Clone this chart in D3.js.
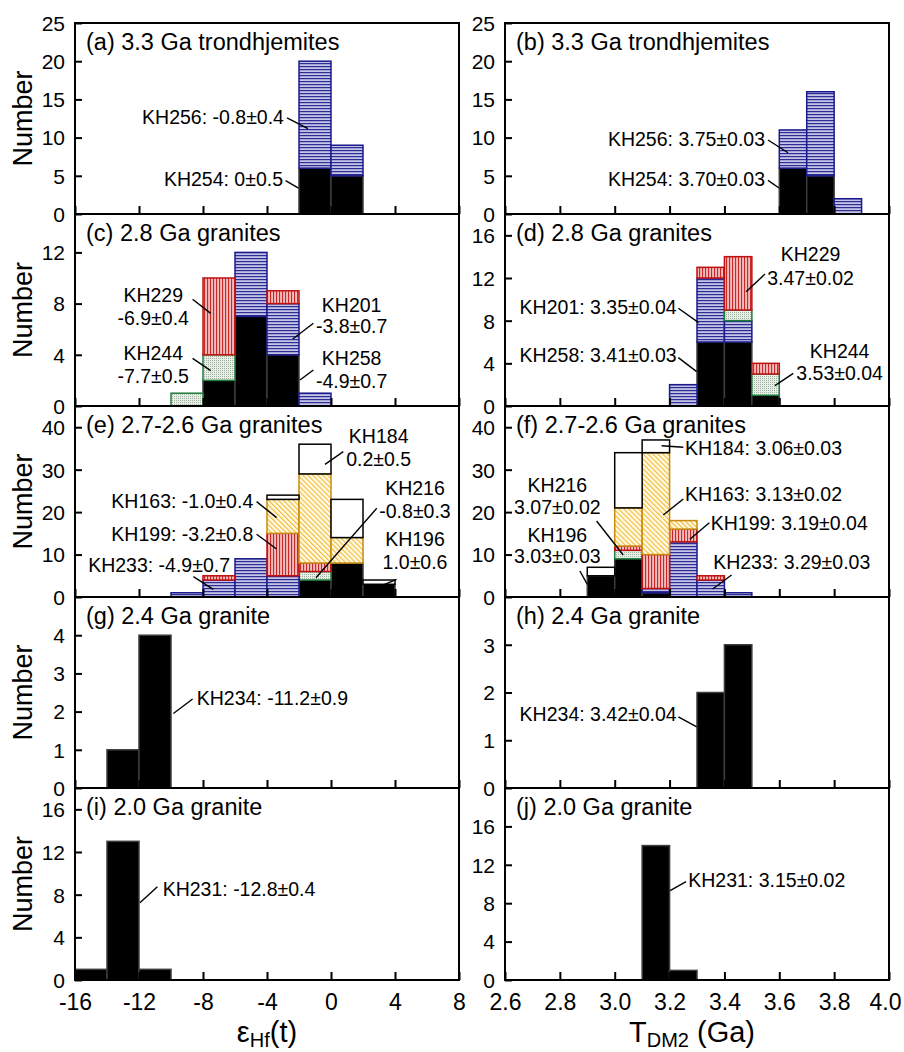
<!DOCTYPE html>
<html><head><meta charset="utf-8">
<script src="https://cdn.jsdelivr.net/npm/d3@7"></script>
<style>
body{margin:0;background:#fff}
text{font-family:"Liberation Sans",Arial,Helvetica,sans-serif;fill:#000}
</style>
</head><body>
<svg id="c" width="904" height="1052"></svg>
<script>
// ---------- DATA ----------
const epsBinWidth = 2;
const tdmBinWidth = 0.1;
const epsTicks = [-16, -12, -8, -4, 0, 4, 8];
const tdmTicks = [2.6, 2.8, 3.0, 3.2, 3.4, 3.6, 3.8, 4.0];

// (a) eHf(t), 3.3 Ga trondhjemites
const aBins = [-2, 0];
const aKH254 = [6, 5];
const aKH256 = [14, 4];
// (b) TDM2
const bBins = [3.6, 3.7, 3.8];
const bKH254 = [6, 5, 0];
const bKH256 = [5, 11, 2];
// (c) eHf(t), 2.8 Ga granites
const cBins = [-10, -8, -6, -4, -2];
const cKH258 = [0, 2, 7, 4, 0];
const cKH201 = [0, 0, 5, 4, 1];
const cKH244 = [1, 2, 0, 0, 0];
const cKH229 = [0, 6, 0, 1, 0];
// (d) TDM2
const dBins = [3.2, 3.3, 3.4, 3.5];
const dKH258 = [0, 6, 6, 1];
const dKH201 = [2, 6, 2, 0];
const dKH244 = [0, 0, 1, 2];
const dKH229 = [0, 1, 5, 1];
// (e) eHf(t), 2.7-2.6 Ga granites
const eBins = [-10, -8, -6, -4, -2, 0, 2];
const eKH196 = [0, 0, 0, 0, 4, 8, 3];
const eKH216 = [0, 0, 0, 0, 2, 0, 0];
const eKH233 = [1, 4, 9, 5, 0, 0, 0];
const eKH199 = [0, 1, 0, 10, 2, 0, 0];
const eKH163 = [0, 0, 0, 8, 21, 6, 0];
const eKH184 = [0, 0, 0, 1, 7, 9, 1];
// (f) TDM2
const fBins = [2.9, 3.0, 3.1, 3.2, 3.3, 3.4];
const fKH196 = [5, 9, 1, 0, 0, 0];
const fKH216 = [0, 2, 0, 0, 0, 0];
const fKH233 = [0, 0, 1, 13, 4, 1];
const fKH199 = [0, 1, 8, 3, 1, 0];
const fKH163 = [0, 9, 24, 2, 0, 0];
const fKH184 = [2, 13, 3, 0, 0, 0];
// (g) eHf(t), 2.4 Ga granite
const gBins = [-14, -12];
const gKH234 = [1, 4];
// (h) TDM2
const hBins = [3.3, 3.4];
const hKH234 = [2, 3];
// (i) eHf(t), 2.0 Ga granite
const iBins = [-16, -14, -12];
const iKH231 = [1, 13, 1];
// (j) TDM2
const jBins = [3.1, 3.2];
const jKH231 = [14, 1];

// sample -> fill style
const sampleStyle = {
  KH254:'black', KH256:'blue',
  KH258:'black', KH201:'blue', KH244:'green', KH229:'red',
  KH196:'black', KH216:'green', KH233:'blue', KH199:'red', KH163:'yellow', KH184:'white',
  KH234:'black', KH231:'black'
};

// ---------- PANELS ----------
const panels = [
  {col:0,row:0,title:'(a) 3.3 Ga trondhjemites',ymax:25,yticks:[0,5,10,15,20,25],bins:aBins,
   series:[['KH254',aKH254],['KH256',aKH256]],
   notes:[
    {text:['KH256: -0.8±0.4'],x:-2.94,y:[11.78],anchor:'end',lead:[-2.75,12.57,-1.44,11.19]},
    {text:['KH254: 0±0.5'],x:-3.0,y:[3.6],anchor:'end',lead:[-2.84,4.38,-2.03,3.40]}]},
  {col:1,row:0,title:'(b) 3.3 Ga trondhjemites',ymax:25,yticks:[0,5,10,15,20,25],bins:bBins,
   series:[['KH254',bKH254],['KH256',bKH256]],
   notes:[
    {text:['KH256: 3.75±0.03'],x:3.548,y:[8.94],anchor:'end',lead:[3.559,9.69,3.632,8.02]},
    {text:['KH254: 3.70±0.03'],x:3.548,y:[3.66],anchor:'end',lead:[3.559,4.41,3.599,3.40]}]},
  {col:0,row:1,title:'(c) 2.8 Ga granites',ymax:15,yticks:[0,4,8,12],bins:cBins,
   series:[['KH258',cKH258],['KH201',cKH201],['KH244',cKH244],['KH229',cKH229]],
   notes:[
    {text:['KH229','-6.9±0.4'],x:-11.11,y:[8.10,6.33],anchor:'middle',lead:[-8.65,8.34,-7.52,7.24]},
    {text:['KH244','-7.7±0.5'],x:-11.11,y:[3.59,1.77],anchor:'middle',lead:[-8.65,3.72,-7.52,2.76]},
    {text:['KH201','-3.8±0.7'],x:1.29,y:[7.37,5.68],anchor:'middle',lead:[-1.10,6.46,-2.39,5.23]},
    {text:['KH258','-4.9±0.7'],x:1.29,y:[3.20,1.38],anchor:'middle',lead:[-1.10,2.81,-1.94,2.03]}]},
  {col:1,row:1,title:'(d) 2.8 Ga granites',ymax:18,yticks:[0,4,8,12,16],bins:dBins,
   series:[['KH258',dKH258],['KH201',dKH201],['KH244',dKH244],['KH229',dKH229]],
   notes:[
    {text:['KH229','3.47±0.02'],x:3.714,y:[13.62,11.34],anchor:'middle',lead:[3.548,12.37,3.479,10.72]},
    {text:['KH201: 3.35±0.04'],x:3.226,y:[8.60],anchor:'end',lead:[3.232,9.16,3.306,7.81]},
    {text:['KH258: 3.41±0.03'],x:3.226,y:[4.15],anchor:'end',lead:[3.232,4.53,3.299,3.22]},
    {text:['KH244','3.53±0.04'],x:3.820,y:[4.47,2.44],anchor:'middle',lead:[3.651,3.06,3.584,1.91]}]},
  {col:0,row:2,title:'(e) 2.7-2.6 Ga granites',ymax:45,yticks:[0,10,20,30,40],bins:eBins,
   series:[['KH196',eKH196],['KH216',eKH216],['KH233',eKH233],['KH199',eKH199],['KH163',eKH163],['KH184',eKH184]],
   notes:[
    {text:['KH184','0.2±0.5'],x:2.98,y:[36.2,30.9],anchor:'middle',lead:[0.77,34.24,-0.375,31.26]},
    {text:['KH163: -1.0±0.4'],x:-4.86,y:[20.9],anchor:'end',lead:[-4.65,22.46,-3.40,18.69]},
    {text:['KH199: -3.2±0.8'],x:-4.86,y:[13.2],anchor:'end',lead:[-4.65,14.77,-3.40,11.31]},
    {text:['KH233: -4.9±0.7'],x:-6.31,y:[5.97],anchor:'end',lead:[-8.6,4.79,-7.36,1.81]},
    {text:['KH216','-0.8±0.3'],x:5.25,y:[24.0,18.69],anchor:'middle',lead:[2.86,20.9,-0.94,4.55]},
    {text:['KH196','1.0±0.6'],x:5.25,y:[11.9,6.6],anchor:'middle',lead:[4.1,4.16,3.17,2.67]}]},
  {col:1,row:2,title:'(f) 2.7-2.6 Ga granites',ymax:45,yticks:[0,10,20,30,40],bins:fBins,
   series:[['KH196',fKH196],['KH216',fKH216],['KH233',fKH233],['KH199',fKH199],['KH163',fKH163],['KH184',fKH184]],
   notes:[
    {text:['KH184: 3.06±0.03'],x:3.256,y:[33.46],anchor:'start',lead:[3.250,35.27,3.171,35.65]},
    {text:['KH216','3.07±0.02'],x:2.791,y:[24.8,19.48],anchor:'middle',lead:[2.934,17.9,3.031,9.9]},
    {text:['KH196','3.03±0.03'],x:2.791,y:[13.03,7.94],anchor:'middle',lead:[2.873,6.13,2.900,2.99]},
    {text:['KH163: 3.13±0.02'],x:3.256,y:[22.62],anchor:'start',lead:[3.250,23.09,3.177,19.32]},
    {text:['KH199: 3.19±0.04'],x:3.350,y:[15.79],anchor:'start',lead:[3.345,17.5,3.274,13.6]},
    {text:['KH233: 3.29±0.03'],x:3.359,y:[6.6],anchor:'start',lead:[3.426,5.18,3.357,1.88]}]},
  {col:0,row:3,title:'(g) 2.4 Ga granite',ymax:5,yticks:[0,1,2,3,4],bins:gBins,
   series:[['KH234',gKH234]],
   notes:[{text:['KH234: -11.2±0.9'],x:-8.39,y:[2.17],anchor:'start',lead:[-8.65,2.33,-9.85,1.95]}]},
  {col:1,row:3,title:'(h) 2.4 Ga granite',ymax:4,yticks:[0,1,2,3],bins:hBins,
   series:[['KH234',hKH234]],
   notes:[{text:['KH234: 3.42±0.04'],x:3.226,y:[1.40],anchor:'end',lead:[3.232,1.49,3.299,1.28]}]},
  {col:0,row:4,title:'(i) 2.0 Ga granite',ymax:18,yticks:[0,4,8,12,16],bins:iBins,
   series:[['KH231',iKH231]],
   notes:[{text:['KH231: -12.8±0.4'],x:-10.52,y:[7.87],anchor:'start',lead:[-10.85,8.75,-11.94,7.25]}]},
  {col:1,row:4,title:'(j) 2.0 Ga granite',ymax:20,yticks:[0,4,8,12,16],bins:jBins,
   series:[['KH231',jKH231]],
   notes:[{text:['KH231: 3.15±0.02'],x:3.268,y:[9.66],anchor:'start',lead:[3.260,10.24,3.202,9.3]}]}
];

// ---------- LAYOUT / STYLE ----------
const colX = [[75, 459], [505, 889]];
const rowY = [23, 214, 406, 597, 788, 980];
const styles = {
  black:{fill:'#000', stroke:'#3c3c3c'},
  blue:{fill:'url(#pBlue)', stroke:'#1a1a8c'},
  red:{fill:'url(#pRed)', stroke:'#bf1010'},
  green:{fill:'url(#pGreen)', stroke:'#1e7d3c'},
  yellow:{fill:'url(#pYellow)', stroke:'#c88a10'},
  white:{fill:'#fff', stroke:'#000'}
};

const svg = d3.select('#c');
const defs = svg.append('defs');
function pattern(id, w, h, bg, fg, rect, transform){
  const p = defs.append('pattern').attr('id', id).attr('patternUnits','userSpaceOnUse')
    .attr('width', w).attr('height', h);
  if (transform) p.attr('patternTransform', transform);
  p.append('rect').attr('width', w).attr('height', h).attr('fill', bg);
  rect.forEach(r => p.append('rect').attr('x', r[0]).attr('y', r[1]).attr('width', r[2]).attr('height', r[3]).attr('fill', fg));
}
pattern('pBlue', 6, 3, '#c4c4e6', '#2c2c94', [[0,0,6,1.2]]);
pattern('pRed', 3, 6, '#f2bcbc', '#c82828', [[0,0,1.1,6]]);
pattern('pGreen', 2, 2, '#e8eee8', '#9fb09f', [[0,0,1,1]]);
pattern('pYellow', 3.5, 4, '#fffaea', '#f2bf3a', [[0,0,1.2,4]], 'rotate(-45)');

const gBars = svg.append('g');
const gAxes = svg.append('g');
const gNotes = svg.append('g');

panels.forEach(p => {
  const [x0, x1] = colX[p.col];
  const y0 = rowY[p.row], y1 = rowY[p.row + 1];
  const x = d3.scaleLinear().domain(p.col ? [2.6, 4.0] : [-16, 8]).range([x0, x1]);
  const y = d3.scaleLinear().domain([0, p.ymax]).range([y1, y0]);
  const bw = p.col ? tdmBinWidth : epsBinWidth;
  const keys = p.series.map(s => s[0]);
  const rows = p.bins.map((b, i) => {
    const r = {bin: b};
    p.series.forEach(([k, v]) => r[k] = v[i]);
    return r;
  });
  const stacked = d3.stack().keys(keys)(rows);
  stacked.forEach(layer => {
    const st = styles[sampleStyle[layer.key]];
    gBars.selectAll(null).data(layer.filter(d => d[1] > d[0])).join('rect')
      .attr('x', d => x(d.data.bin))
      .attr('width', d => x(d.data.bin + bw) - x(d.data.bin))
      .attr('y', d => y(d[1]))
      .attr('height', d => y(d[0]) - y(d[1]))
      .attr('fill', st.fill).attr('stroke', st.stroke).attr('stroke-width', 1.5);
  });

  // y axis
  const ya = gAxes.append('g').attr('transform', `translate(${x0},0)`)
    .call(d3.axisLeft(y).tickValues(p.yticks).tickSize(-7).tickPadding(10).tickFormat(d3.format('d')));
  ya.select('.domain').remove();
  ya.selectAll('line').attr('stroke', '#000').attr('stroke-width', 2);
  ya.selectAll('text').attr('font-size', 21).attr('font-family', '"Liberation Sans",Arial,sans-serif').attr('dy', '0.35em');

  // x axis
  const ticks = p.col ? tdmTicks : epsTicks;
  const xa = gAxes.append('g').attr('transform', `translate(0,${y1})`)
    .call(d3.axisBottom(x).tickValues(ticks).tickSize(-8).tickPadding(14)
      .tickFormat(p.row === 4 ? (p.col ? d3.format('.1f') : d3.format('d')) : ''));
  xa.select('.domain').remove();
  xa.selectAll('line').attr('stroke', '#000').attr('stroke-width', 2);
  xa.selectAll('text').attr('font-size', 23).attr('font-family', '"Liberation Sans",Arial,sans-serif');
  xa.selectAll('text').text(function(){ return this.textContent.replace('−', '-'); });
  if (p.row === 4 && p.col === 1) {
    xa.selectAll('text').filter(d => d === 4.0).attr('dx', -4);
  }

  // frame
  gAxes.append('rect').attr('x', x0).attr('y', y0).attr('width', x1 - x0).attr('height', y1 - y0)
    .attr('fill', 'none').attr('stroke', '#000').attr('stroke-width', 2);

  // title
  gNotes.append('text').attr('x', x0 + 11).attr('y', y0 + 27).attr('font-size', 23.5).text(p.title);

  // annotations
  p.notes.forEach(n => {
    gNotes.append('line')
      .attr('x1', x(n.lead[0])).attr('y1', y(n.lead[1]))
      .attr('x2', x(n.lead[2])).attr('y2', y(n.lead[3]))
      .attr('stroke', '#000').attr('stroke-width', 1.4);
    n.text.forEach((t, i) => {
      gNotes.append('text').attr('x', x(n.x)).attr('y', y(n.y[i]))
        .attr('text-anchor', n.anchor).attr('font-size', 19.5).text(t);
    });
  });

  if (p.col === 0) {
    gNotes.append('text').attr('transform', `translate(32,${(y0 + y1) / 2}) rotate(-90)`)
      .attr('text-anchor', 'middle').attr('font-size', 27).text('Number');
  }
});

// axis titles
const lx = svg.append('text').attr('x', (colX[0][0] + colX[0][1]) / 2).attr('y', 1042)
  .attr('text-anchor', 'middle').attr('font-size', 29);
lx.append('tspan').text('ε');
lx.append('tspan').attr('font-size', 20).attr('dy', 5).text('Hf');
lx.append('tspan').attr('dy', -5).text('(t)');

const rx = svg.append('text').attr('x', 692).attr('y', 1042)
  .attr('text-anchor', 'middle').attr('font-size', 29);
rx.append('tspan').text('T');
rx.append('tspan').attr('font-size', 20).attr('dy', 5).text('DM2');
rx.append('tspan').attr('dy', -5).text(' (Ga)');
</script>
</body></html>
